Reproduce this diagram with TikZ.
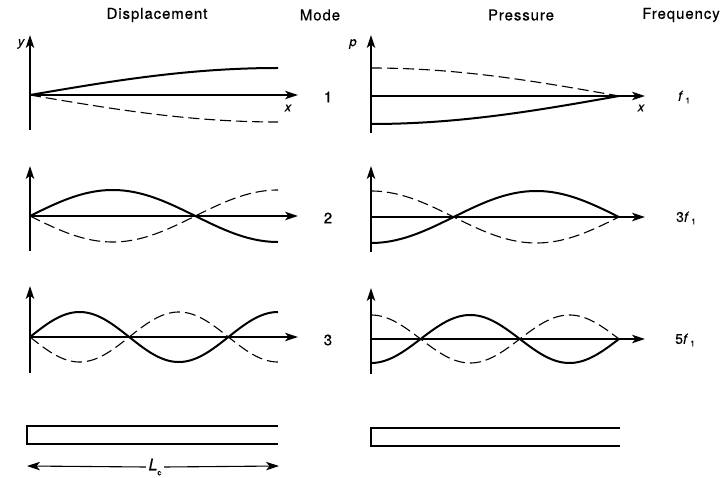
\documentclass[tikz,border=0pt]{standalone}
\usepackage{fontspec}
\setmainfont{TeX Gyre Heros}
\usetikzlibrary{arrows.meta}
\begin{document}
\begin{tikzpicture}[x=1pt,y=-1pt,
  tip/.style={-{Stealth[length=13pt,width=8.5pt,inset=3.5pt]}},
  axis/.style={line width=1.1pt,tip},
  solidc/.style={line width=2pt},
  dashc/.style={line width=1.1pt,dash pattern=on 11pt off 5pt},
  tube/.style={line width=2pt},
  hdr/.style={font=\fontsize{15}{17}\selectfont\addfontfeatures{LetterSpace=6,FakeBold=0.4},inner sep=0pt},
  lbl/.style={font=\fontsize{15}{17}\selectfont\addfontfeatures{FakeBold=0.8},inner sep=0pt},
  ilbl/.style={font=\fontsize{13}{15}\selectfont\itshape\addfontfeatures{FakeBold=0.5},inner sep=0pt},
  flbl/.style={font=\fontsize{14}{16}\selectfont\addfontfeatures{FakeBold=0.4},inner sep=0pt}
]
\useasboundingbox (0,0) rectangle (728,478);
% headers
\node[hdr] (hdisp) at (157,15) {Displacement};
\node[hdr] (hmode) at (320,15) {Mode};
\node[hdr] (hpres) at (521,15) {Pressure};
\node[hdr] (hfreq) at (681,15) {Frequency};

% ---------- left: displacement ----------
\coordinate (lo1) at (30,95);  \coordinate (lx1) at (298,95);
\coordinate (lt1) at (30,35);  \coordinate (lb1) at (30,130);
\coordinate (lo2) at (30,216); \coordinate (lx2) at (298,216);
\coordinate (lt2) at (30,166); \coordinate (lb2) at (30,251);
\coordinate (lo3) at (30,337); \coordinate (lx3) at (298,337);
\coordinate (lt3) at (30,286); \coordinate (lb3) at (30,373);
\foreach \i in {1,2,3}{
  \draw[axis] (lo\i) -- (lx\i);
  \draw[axis] (lb\i) -- (lt\i);
}
\node[ilbl] (ly) at (21,44) {y};
\node[ilbl] (lxl) at (288,108) {x};
% mode 1
\draw[solidc] plot[domain=0:248,samples=60] ({30+\x},{95-27*sin(\x/248*90)});
\draw[dashc] plot[domain=0:248,samples=60] ({30+\x},{95+27*sin(\x/248*90)});
% mode 2
\draw[solidc] plot[domain=0:248,samples=100] ({30+\x},{216-26*sin(\x/248*270)});
\draw[dashc] plot[domain=0:248,samples=100] ({30+\x},{216+26*sin(\x/248*270)});
% mode 3
\draw[solidc] plot[domain=0:248,samples=140] ({30+\x},{337-25*sin(\x/248*450)});
\draw[dashc] plot[domain=0:248,samples=140] ({30+\x},{337+25*sin(\x/248*450)});

% mode numbers
\node[lbl] (m1) at (328,97) {1};
\node[lbl] (m2) at (328,218) {2};
\node[lbl] (m3) at (328,340) {3};

% ---------- right: pressure ----------
\coordinate (ro1) at (371,96);  \coordinate (rx1) at (645,96);
\coordinate (rt1) at (371,35);  \coordinate (rb1) at (371,133);
\coordinate (ro2) at (371,217); \coordinate (rx2) at (645,217);
\coordinate (rt2) at (371,166); \coordinate (rb2) at (371,252);
\coordinate (ro3) at (371,339); \coordinate (rx3) at (645,339);
\coordinate (rt3) at (371,288); \coordinate (rb3) at (371,374);
\foreach \i in {1,2,3}{
  \draw[axis] (ro\i) -- (rx\i);
  \draw[axis] (rb\i) -- (rt\i);
}
\node[ilbl] (rp) at (353,44) {p};
\node[ilbl] (rxl) at (641,108) {x};
% mode 1
\draw[dashc] plot[domain=0:248,samples=60] ({371+\x},{96-28*cos(\x/248*90)});
\draw[solidc] plot[domain=0:248,samples=60] ({371+\x},{96+28*cos(\x/248*90)});
% mode 2
\draw[solidc] plot[domain=0:248,samples=100] ({371+\x},{217+26*cos(\x/248*270)});
\draw[dashc] plot[domain=0:248,samples=100] ({371+\x},{217-26*cos(\x/248*270)});
% mode 3
\draw[solidc] plot[domain=0:248,samples=140] ({371+\x},{339+24*cos(\x/248*450)});
\draw[dashc] plot[domain=0:248,samples=140] ({371+\x},{339-24*cos(\x/248*450)});

% frequencies
\node[flbl] (f1) at (684,97) {\textit{f}\,\raisebox{-0.35ex}{\footnotesize 1}};
\node[flbl] (f3) at (686,218) {3\textit{f}\,\raisebox{-0.35ex}{\footnotesize 1}};
\node[flbl] (f5) at (685,340) {5\textit{f}\,\raisebox{-0.35ex}{\footnotesize 1}};

% ---------- tubes ----------
\coordinate (ta1) at (278,426); \coordinate (ta2) at (27,426);
\coordinate (ta3) at (27,444);  \coordinate (ta4) at (278,444);
\draw[tube] (ta1) -- (ta2) -- (ta3) -- (ta4);
\coordinate (tb1) at (620,428); \coordinate (tb2) at (371,428);
\coordinate (tb3) at (371,446); \coordinate (tb4) at (620,446);
\draw[tube] (tb1) -- (tb2) -- (tb3) -- (tb4);

% dimension
\coordinate (dl) at (27,466); \coordinate (dr) at (279,466);
\node[font=\fontsize{16}{18}\selectfont\addfontfeatures{FakeBold=0.4},fill=white,inner sep=2.5pt] (Lc) at (155,467) {\textit{L}\raisebox{-0.6ex}{\footnotesize c}};
\draw[line width=1.1pt,tip] (Lc.west) -- (dl);
\draw[line width=1.1pt,tip] (Lc.east) -- (dr);
\end{tikzpicture}
\end{document}
